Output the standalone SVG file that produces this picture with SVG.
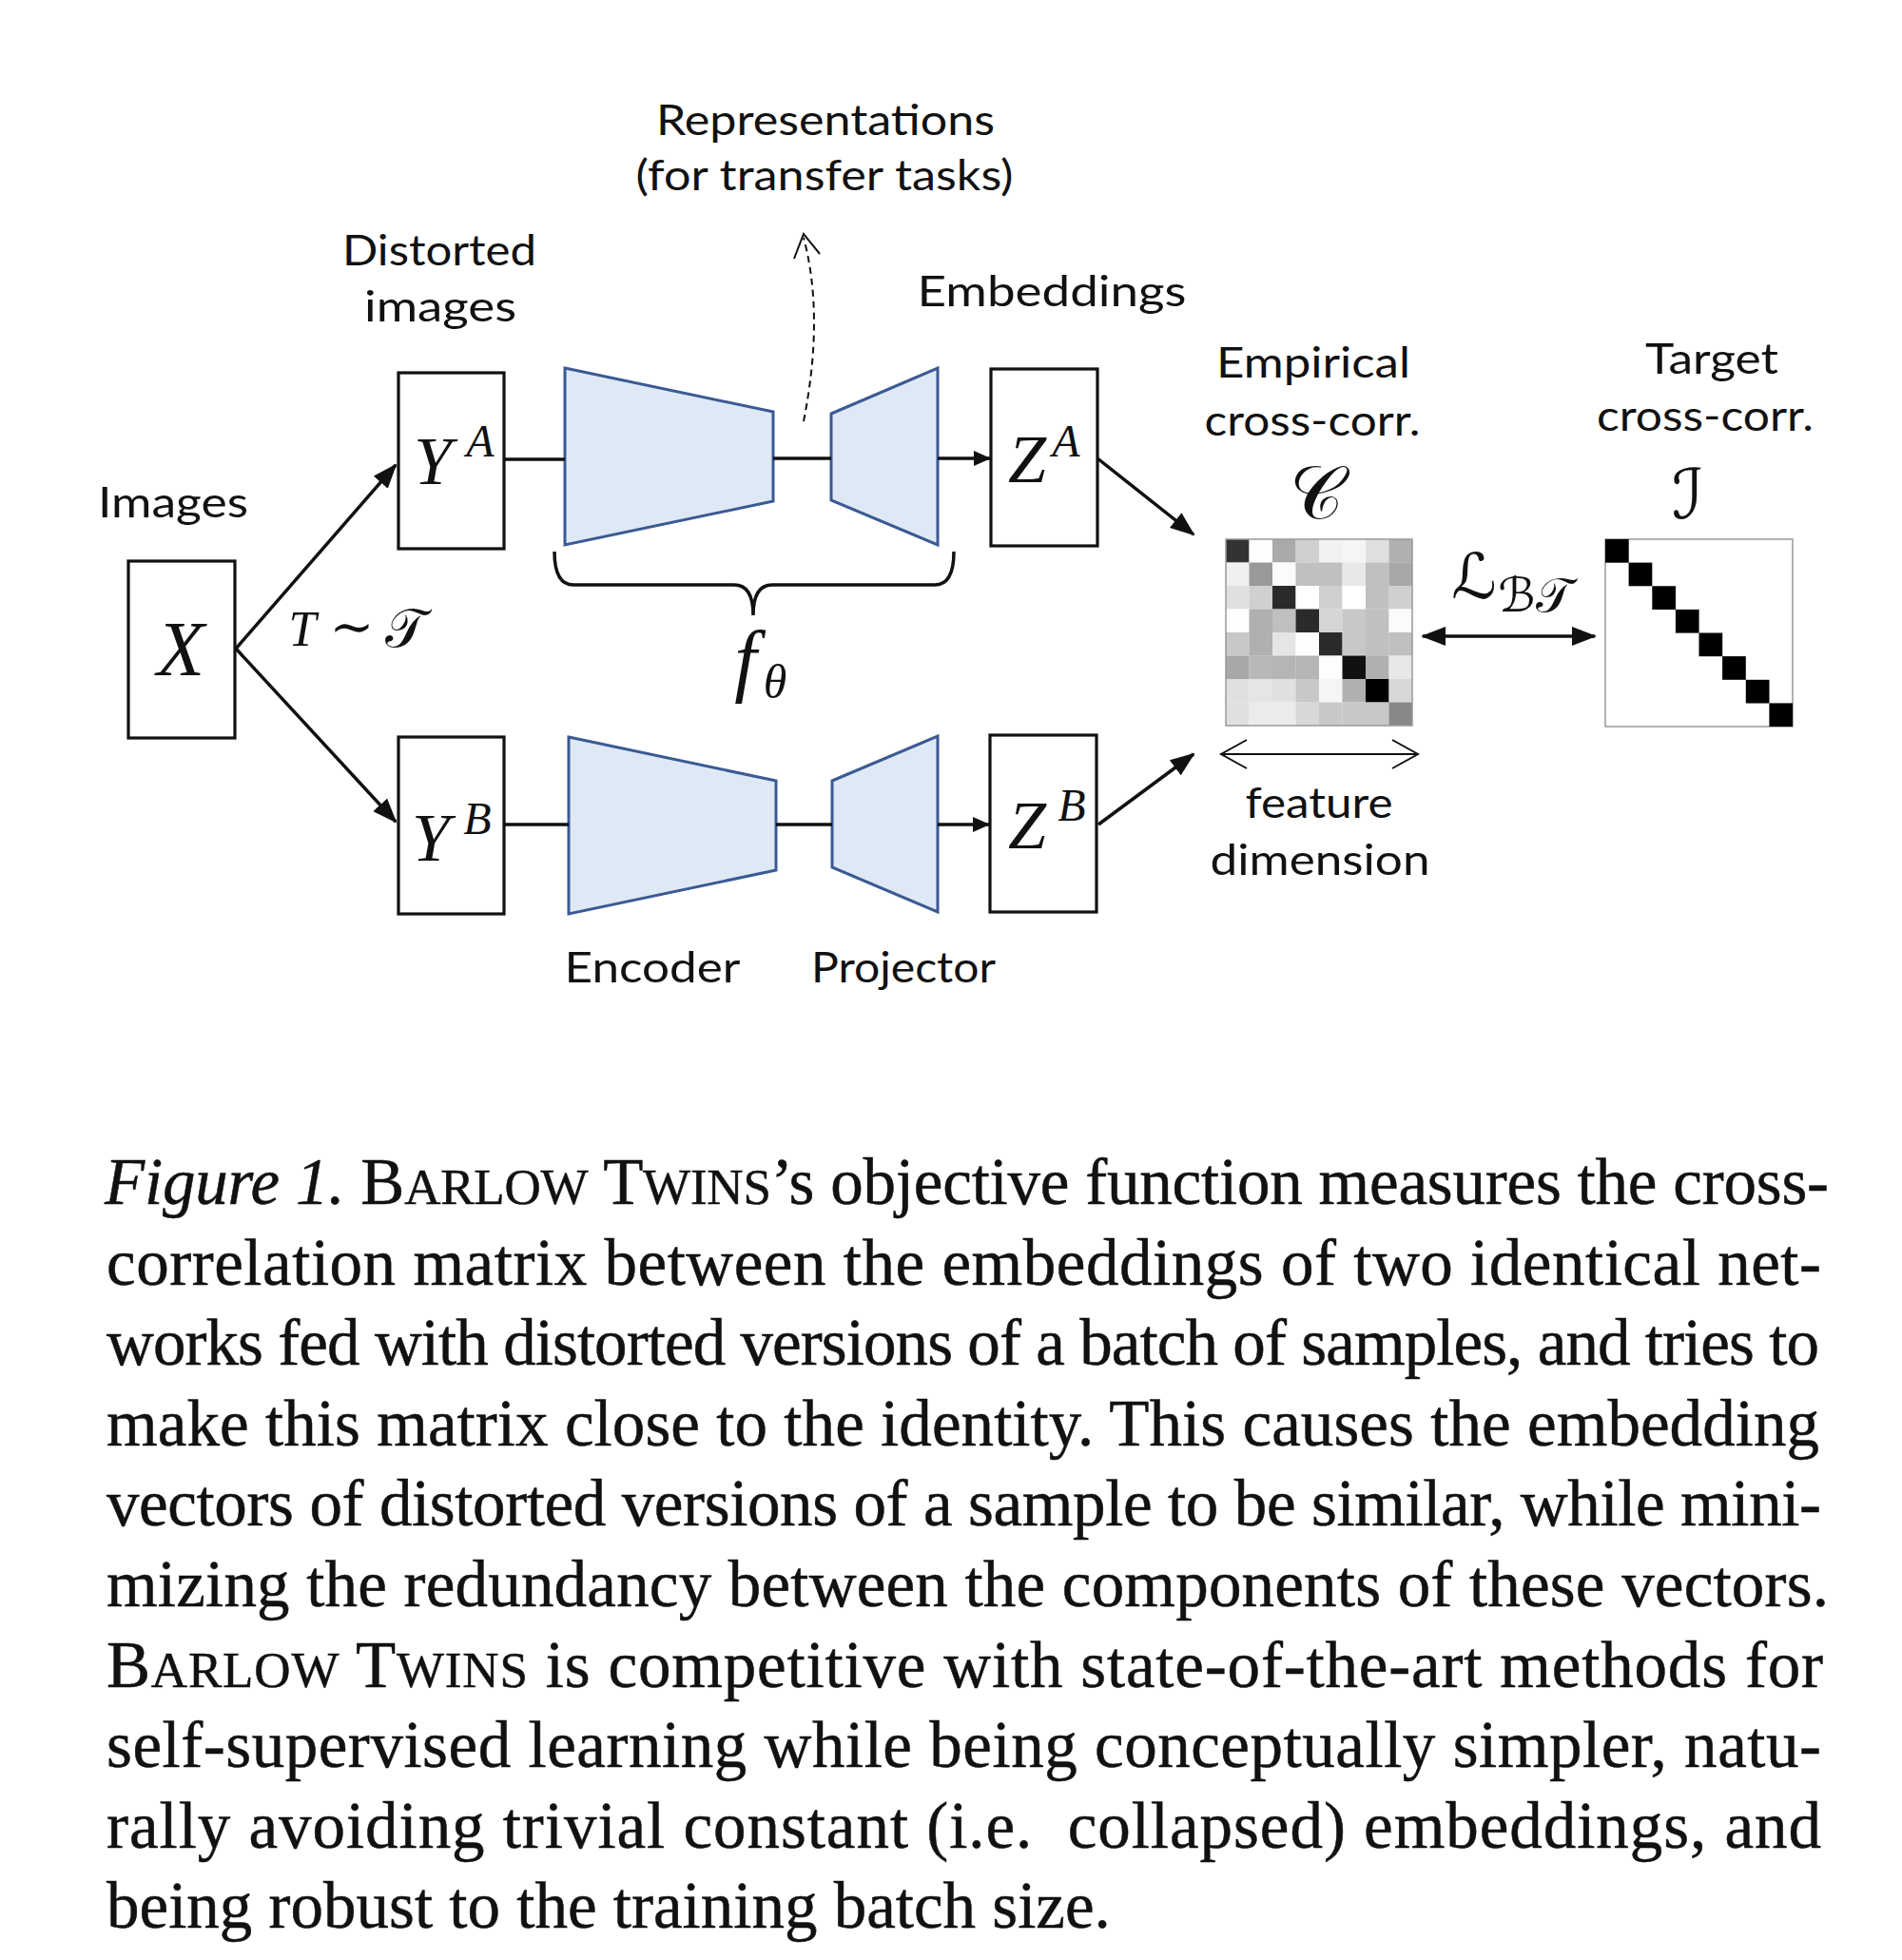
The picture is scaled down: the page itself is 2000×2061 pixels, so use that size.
<svg xmlns="http://www.w3.org/2000/svg" width="2000" height="2061" viewBox="0 0 2000 2061">
<style>
.lbl{font-family:Lato,"Noto Sans","DejaVu Sans",sans-serif;font-size:45px;fill:#111;text-anchor:middle}
.math{font-family:"Liberation Serif","DejaVu Serif",serif;font-style:italic;fill:#111;text-anchor:middle}
.scr{font-family:"DejaVu Serif","DejaVu Sans","Noto Sans",serif;fill:#111;text-anchor:middle}
.box{fill:#fff;stroke:#111;stroke-width:3.2}
.trap{fill:#dfe9f5;stroke:#3b5a94;stroke-width:3}
.ln{fill:none;stroke:#111;stroke-width:3.5}
.thin{fill:none;stroke:#111;stroke-width:2}
.cap{font-family:"Liberation Serif","Times New Roman",serif;font-size:69px;fill:#111;stroke:#111;stroke-width:0.5}
.sc{font-size:53px}
</style>
<defs>
<marker id="ah" markerUnits="userSpaceOnUse" viewBox="0 0 26 20" refX="24" refY="10" markerWidth="26" markerHeight="20" orient="auto-start-reverse"><path d="M0,0 L26,10 L0,20 z" fill="#111"/></marker>
<marker id="ahs" markerUnits="userSpaceOnUse" viewBox="0 0 18 16" refX="17" refY="8" markerWidth="18" markerHeight="16" orient="auto"><path d="M0,0 L18,8 L0,16 z" fill="#111"/></marker>
</defs>
<rect width="2000" height="2061" fill="#fff"/>

<g id="labels">
<text class="lbl" x="868" y="142" textLength="356" lengthAdjust="spacingAndGlyphs">Representations</text>
<text class="lbl" x="867" y="200" textLength="397" lengthAdjust="spacingAndGlyphs">(for transfer tasks)</text>
<text class="lbl" x="462" y="279" textLength="204" lengthAdjust="spacingAndGlyphs">Distorted</text>
<text class="lbl" x="463" y="338" textLength="160" lengthAdjust="spacingAndGlyphs">images</text>
<text class="lbl" x="1106" y="322" textLength="283" lengthAdjust="spacingAndGlyphs">Embeddings</text>
<text class="lbl" x="182" y="544" textLength="158" lengthAdjust="spacingAndGlyphs">Images</text>
<text class="lbl" x="1381" y="397" textLength="204" lengthAdjust="spacingAndGlyphs">Empirical</text>
<text class="lbl" x="1380" y="458" textLength="227" lengthAdjust="spacingAndGlyphs">cross-corr.</text>
<text class="lbl" x="1800" y="393" textLength="140" lengthAdjust="spacingAndGlyphs">Target</text>
<text class="lbl" x="1793" y="453" textLength="228" lengthAdjust="spacingAndGlyphs">cross-corr.</text>
<text class="lbl" x="1387" y="860" textLength="155" lengthAdjust="spacingAndGlyphs">feature</text>
<text class="lbl" x="1388" y="920" textLength="231" lengthAdjust="spacingAndGlyphs">dimension</text>
<text class="lbl" x="686" y="1033" textLength="185" lengthAdjust="spacingAndGlyphs">Encoder</text>
<text class="lbl" x="950" y="1033" textLength="194" lengthAdjust="spacingAndGlyphs">Projector</text>
<text class="math" x="318" y="679" font-size="52">T</text>
<text class="scr" x="370" y="678" font-size="56" font-style="normal">∼</text>
<text class="scr" x="426" y="680" font-size="56">𝒯</text>
<text class="math" x="784" y="722" font-size="84">f</text>
<text class="math" x="815" y="734" font-size="50">θ</text>
<text class="scr" x="1384" y="545" font-size="78">𝒞</text>
<text class="scr" x="1775" y="545" font-size="72">ℐ</text>
<text class="scr" x="1550" y="629" font-size="66">ℒ</text>
<text class="scr" x="1614" y="643" font-size="50">ℬ𝒯</text>
</g>

<g id="node-X">
<rect class="box" x="135" y="590" width="112" height="186"/>
<text class="math" x="190" y="710" font-size="82">X</text>
</g>
<g id="node-YA">
<rect class="box" x="419" y="392" width="111" height="185"/>
<text class="math" x="455" y="509" font-size="72">Y</text>
<text class="math" x="505" y="480" font-size="48">A</text>
</g>
<g id="node-YB">
<rect class="box" x="419" y="775" width="111" height="186"/>
<text class="math" x="453" y="905" font-size="72">Y</text>
<text class="math" x="502" y="877" font-size="48">B</text>
</g>
<g id="node-encoderA"><polygon class="trap" points="594,387 813,433 813,527 594,573"/></g>
<g id="node-projectorA"><polygon class="trap" points="874,435 986,387 986,573 874,526"/></g>
<g id="node-encoderB"><polygon class="trap" points="598,775 816,821 816,915 598,961"/></g>
<g id="node-projectorB"><polygon class="trap" points="875,821 986,774 986,959 875,912"/></g>
<g id="node-ZA">
<rect class="box" x="1042" y="388" width="112" height="186"/>
<text class="math" x="1080" y="507" font-size="72">Z</text>
<text class="math" x="1121" y="480" font-size="48">A</text>
</g>
<g id="node-ZB">
<rect class="box" x="1041" y="773" width="112" height="186"/>
<text class="math" x="1080" y="892" font-size="72">Z</text>
<text class="math" x="1127" y="863" font-size="48">B</text>
</g>

<g id="node-C">
<rect x="1289" y="567" width="24.6" height="24.6" fill="#333"/><rect x="1313.5" y="567" width="24.6" height="24.6" fill="#fdfdfd"/><rect x="1338" y="567" width="24.6" height="24.6" fill="#aaa"/><rect x="1362.5" y="567" width="24.6" height="24.6" fill="#d0d0d0"/><rect x="1387" y="567" width="24.6" height="24.6" fill="#f2f2f2"/><rect x="1411.5" y="567" width="24.6" height="24.6" fill="#f5f5f5"/><rect x="1436" y="567" width="24.6" height="24.6" fill="#e0e0e0"/><rect x="1460.5" y="567" width="24.5" height="24.6" fill="#b0b0b0"/>
<rect x="1289" y="591.5" width="24.6" height="24.6" fill="#f0f0f0"/><rect x="1313.5" y="591.5" width="24.6" height="24.6" fill="#999"/><rect x="1338" y="591.5" width="24.6" height="24.6" fill="#fbfbfb"/><rect x="1362.5" y="591.5" width="24.6" height="24.6" fill="#c0c0c0"/><rect x="1387" y="591.5" width="24.6" height="24.6" fill="#c0c0c0"/><rect x="1411.5" y="591.5" width="24.6" height="24.6" fill="#e8e8e8"/><rect x="1436" y="591.5" width="24.6" height="24.6" fill="#c0c0c0"/><rect x="1460.5" y="591.5" width="24.5" height="24.6" fill="#a8a8a8"/>
<rect x="1289" y="616" width="24.6" height="24.6" fill="#e0e0e0"/><rect x="1313.5" y="616" width="24.6" height="24.6" fill="#d0d0d0"/><rect x="1338" y="616" width="24.6" height="24.6" fill="#2a2a2a"/><rect x="1362.5" y="616" width="24.6" height="24.6" fill="#fff"/><rect x="1387" y="616" width="24.6" height="24.6" fill="#d0d0d0"/><rect x="1411.5" y="616" width="24.6" height="24.6" fill="#fff"/><rect x="1436" y="616" width="24.6" height="24.6" fill="#c0c0c0"/><rect x="1460.5" y="616" width="24.5" height="24.6" fill="#d0d0d0"/>
<rect x="1289" y="640.5" width="24.6" height="24.6" fill="#fefefe"/><rect x="1313.5" y="640.5" width="24.6" height="24.6" fill="#b0b0b0"/><rect x="1338" y="640.5" width="24.6" height="24.6" fill="#c0c0c0"/><rect x="1362.5" y="640.5" width="24.6" height="24.6" fill="#2a2a2a"/><rect x="1387" y="640.5" width="24.6" height="24.6" fill="#d5d5d5"/><rect x="1411.5" y="640.5" width="24.6" height="24.6" fill="#c8c8c8"/><rect x="1436" y="640.5" width="24.6" height="24.6" fill="#c0c0c0"/><rect x="1460.5" y="640.5" width="24.5" height="24.6" fill="#fbfbfb"/>
<rect x="1289" y="665" width="24.6" height="24.6" fill="#c8c8c8"/><rect x="1313.5" y="665" width="24.6" height="24.6" fill="#b0b0b0"/><rect x="1338" y="665" width="24.6" height="24.6" fill="#e5e5e5"/><rect x="1362.5" y="665" width="24.6" height="24.6" fill="#fefefe"/><rect x="1387" y="665" width="24.6" height="24.6" fill="#2a2a2a"/><rect x="1411.5" y="665" width="24.6" height="24.6" fill="#c8c8c8"/><rect x="1436" y="665" width="24.6" height="24.6" fill="#c0c0c0"/><rect x="1460.5" y="665" width="24.5" height="24.6" fill="#c0c0c0"/>
<rect x="1289" y="689.5" width="24.6" height="24.6" fill="#a8a8a8"/><rect x="1313.5" y="689.5" width="24.6" height="24.6" fill="#b8b8b8"/><rect x="1338" y="689.5" width="24.6" height="24.6" fill="#b5b5b5"/><rect x="1362.5" y="689.5" width="24.6" height="24.6" fill="#b5b5b5"/><rect x="1387" y="689.5" width="24.6" height="24.6" fill="#fdfdfd"/><rect x="1411.5" y="689.5" width="24.6" height="24.6" fill="#111"/><rect x="1436" y="689.5" width="24.6" height="24.6" fill="#b0b0b0"/><rect x="1460.5" y="689.5" width="24.5" height="24.6" fill="#e8e8e8"/>
<rect x="1289" y="714" width="24.6" height="24.6" fill="#e0e0e0"/><rect x="1313.5" y="714" width="24.6" height="24.6" fill="#e5e5e5"/><rect x="1338" y="714" width="24.6" height="24.6" fill="#e0e0e0"/><rect x="1362.5" y="714" width="24.6" height="24.6" fill="#c8c8c8"/><rect x="1387" y="714" width="24.6" height="24.6" fill="#f5f5f5"/><rect x="1411.5" y="714" width="24.6" height="24.6" fill="#b0b0b0"/><rect x="1436" y="714" width="24.6" height="24.6" fill="#000"/><rect x="1460.5" y="714" width="24.5" height="24.6" fill="#d8d8d8"/>
<rect x="1289" y="738.5" width="24.6" height="24.5" fill="#e0e0e0"/><rect x="1313.5" y="738.5" width="24.6" height="24.5" fill="#ebebeb"/><rect x="1338" y="738.5" width="24.6" height="24.5" fill="#ebebeb"/><rect x="1362.5" y="738.5" width="24.6" height="24.5" fill="#d8d8d8"/><rect x="1387" y="738.5" width="24.6" height="24.5" fill="#c8c8c8"/><rect x="1411.5" y="738.5" width="24.6" height="24.5" fill="#c8c8c8"/><rect x="1436" y="738.5" width="24.6" height="24.5" fill="#c8c8c8"/><rect x="1460.5" y="738.5" width="24.5" height="24.5" fill="#888"/>
<rect x="1289" y="567" width="196" height="196" fill="none" stroke="#999" stroke-width="1.5"/>
</g>

<g id="node-I">
<rect x="1688" y="567" width="197" height="197" fill="#fff" stroke="#999" stroke-width="1.5"/>
<rect x="1688" y="567" width="24.7" height="24.7" fill="#000"/>
<rect x="1712.6" y="591.6" width="24.7" height="24.7" fill="#000"/>
<rect x="1737.3" y="616.3" width="24.7" height="24.7" fill="#000"/>
<rect x="1761.9" y="640.9" width="24.7" height="24.7" fill="#000"/>
<rect x="1786.5" y="665.5" width="24.7" height="24.7" fill="#000"/>
<rect x="1811.1" y="690.1" width="24.7" height="24.7" fill="#000"/>
<rect x="1835.8" y="714.8" width="24.7" height="24.7" fill="#000"/>
<rect x="1860.4" y="739.4" width="24.6" height="24.6" fill="#000"/>
</g>

<g id="connectors">
<path class="ln" d="M248,682 L416,489" marker-end="url(#ah)"/>
<path class="ln" d="M248,682 L416,864" marker-end="url(#ah)"/>
<path class="ln" d="M530,483 L594,483"/>
<path class="ln" d="M813,482 L874,482"/>
<path class="ln" d="M986,482 L1041,482" marker-end="url(#ahs)"/>
<path class="ln" d="M530,867 L598,867"/>
<path class="ln" d="M816,867 L875,867"/>
<path class="ln" d="M986,867 L1040,867" marker-end="url(#ahs)"/>
<path class="ln" d="M1154,482 L1255,562" marker-end="url(#ah)"/>
<path class="ln" d="M1155,867 L1255,793" marker-end="url(#ah)"/>
<path class="ln" d="M1496,669 L1677,669" marker-start="url(#ah)" marker-end="url(#ah)"/>
<path class="thin" d="M845,443 Q867,332 845,250" stroke-dasharray="7 5"/>
<polyline class="thin" points="835,272 845,246 862,267"/>
<path class="thin" d="M1284,793 L1491,793"/>
<polyline class="thin" points="1311,778 1284,793 1311,808"/>
<polyline class="thin" points="1464,778 1491,793 1464,808"/>
<path class="ln" stroke-width="3" d="M583,580 Q583,615 603,615 L772,615 Q792,615 792,647 Q792,615 812,615 L983,615 Q1003,615 1003,580"/>
</g>

<g id="caption">
<text class="cap" x="110" y="1266" textLength="1813" lengthAdjust="spacing"><tspan font-style="italic">Figure 1.</tspan> B<tspan class="sc">ARLOW</tspan> T<tspan class="sc">WINS</tspan>’s objective function measures the cross-</text>
<text class="cap" x="112" y="1350.6" textLength="1803" lengthAdjust="spacing">correlation matrix between the embeddings of two identical net-</text>
<text class="cap" x="112" y="1435.2" textLength="1801" lengthAdjust="spacing">works fed with distorted versions of a batch of samples, and tries to</text>
<text class="cap" x="112" y="1519.8" textLength="1801" lengthAdjust="spacing">make this matrix close to the identity. This causes the embedding</text>
<text class="cap" x="112" y="1604.4" textLength="1803" lengthAdjust="spacing">vectors of distorted versions of a sample to be similar, while mini-</text>
<text class="cap" x="112" y="1689" textLength="1811" lengthAdjust="spacing">mizing the redundancy between the components of these vectors.</text>
<text class="cap" x="112" y="1773.6" textLength="1805" lengthAdjust="spacing">B<tspan class="sc">ARLOW</tspan> T<tspan class="sc">WINS</tspan> is competitive with state-of-the-art methods for</text>
<text class="cap" x="112" y="1858.2" textLength="1803" lengthAdjust="spacing">self-supervised learning while being conceptually simpler, natu-</text>
<text class="cap" x="112" y="1942.8" textLength="1803" lengthAdjust="spacing">rally avoiding trivial constant (i.e.&#160; collapsed) embeddings, and</text>
<text class="cap" x="112" y="2027.4">being robust to the training batch size.</text>
</g>
</svg>
